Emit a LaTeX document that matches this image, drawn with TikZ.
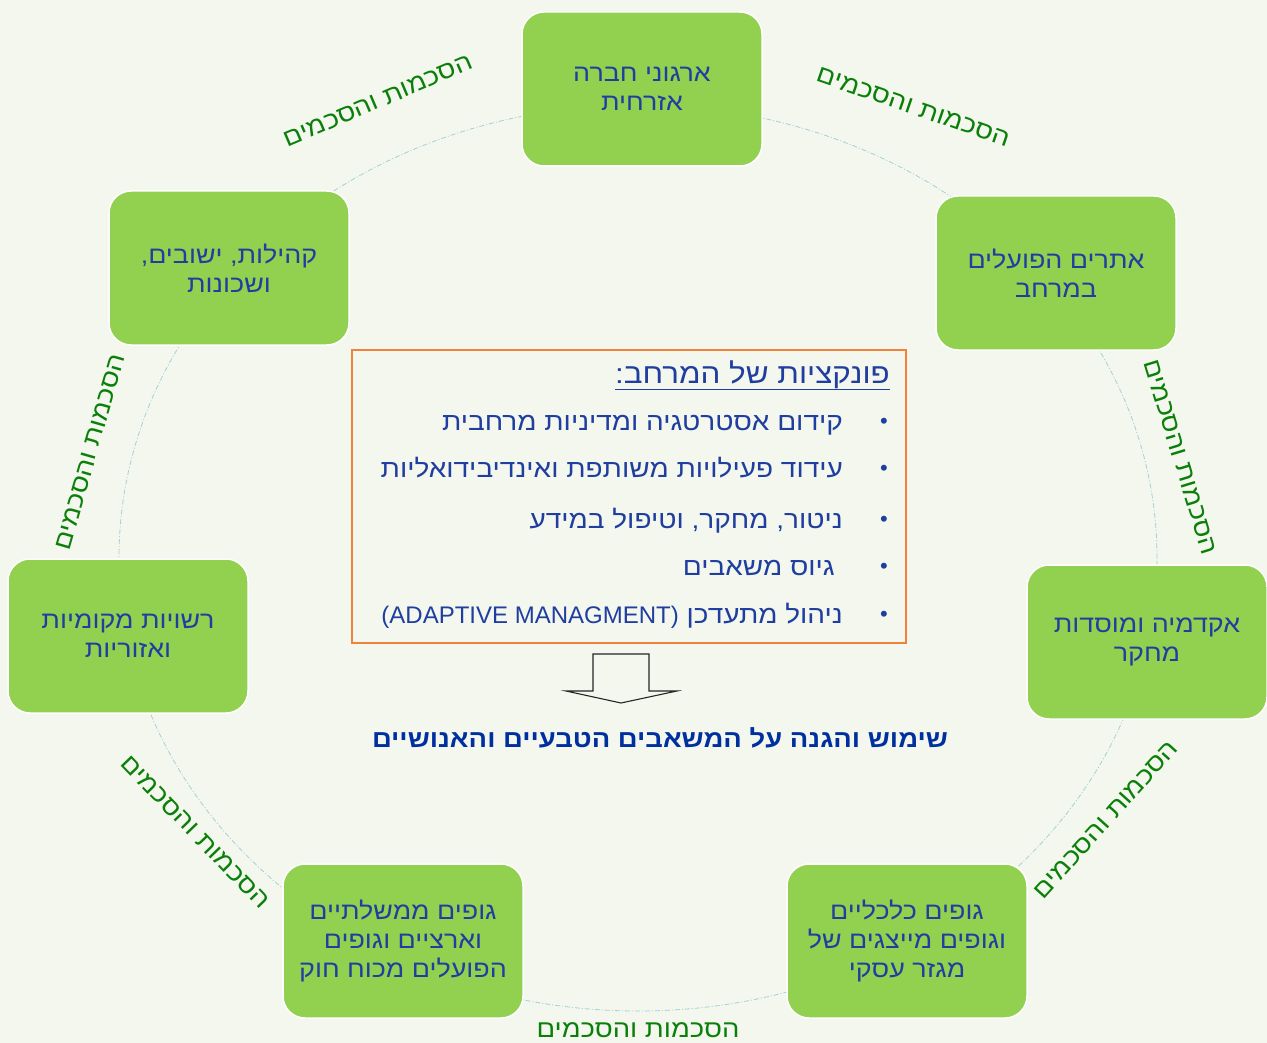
\documentclass[tikz,border=0pt]{standalone}
\usepackage{fontspec}
\setmainfont{Liberation Sans}
\newfontfamily\heb[Script=Hebrew,FakeStretch=1.12]{Liberation Sans}
\newfontfamily\latinfont{Liberation Sans}
\TeXXeTstate=1
\newcommand{\rtltext}[1]{\beginR #1\endR}
\definecolor{bgc}{RGB}{244,247,237}
\definecolor{boxgreen}{RGB}{146,208,80}
\definecolor{boxtext}{RGB}{31,62,160}
\definecolor{labgreen}{RGB}{10,128,10}
\definecolor{circc}{RGB}{165,208,214}
\definecolor{frameor}{RGB}{240,130,60}
\definecolor{boldblue}{RGB}{0,48,160}
\begin{document}
\begin{tikzpicture}[x=1pt,y=-1pt,
  actor/.style={draw=white, line width=1.5pt, fill=boxgreen, rounded corners=22pt,
    minimum width=240pt, minimum height=154pt, align=center, text=boxtext,
    font=\heb\fontsize{24}{29}\selectfont},
  agree/.style={text=labgreen, font=\heb\fontsize{24.5}{30}\selectfont, inner sep=0pt},
  ring/.style={draw=circc, line width=0.8pt, dash pattern=on 5pt off 2pt on 1pt off 2pt},
  bodyline/.style={anchor=base east, text=boxtext, font=\heb\fontsize{25}{29}\selectfont, inner sep=0pt},
  bulletmark/.style={anchor=base, text=boxtext, font=\latinfont\fontsize{22}{26}\selectfont, inner sep=0pt}]
\fill[bgc] (0,0) rectangle (1267,1043);
\useasboundingbox (0,0) rectangle (1267,1043);

% ring
\draw[ring] (638,558) ellipse [x radius=519pt, y radius=453pt];

% actors
\node[actor] (civ) at (642,89) {\rtltext{ארגוני חברה}\\\rtltext{אזרחית}};
\node[actor] (sites) at (1056,273) {\rtltext{אתרים הפועלים}\\\rtltext{במרחב}};
\node[actor] (acad) at (1147,642) {\rtltext{אקדמיה ומוסדות}\\\rtltext{מחקר}};
\node[actor] (econ) at (907,941) {\rtltext{גופים כלכליים}\\\rtltext{וגופים מייצגים של}\\\rtltext{מגזר עסקי}};
\node[actor] (gov) at (403,941) {\rtltext{גופים ממשלתיים}\\\rtltext{וארציים וגופים}\\\rtltext{הפועלים מכוח חוק}};
\node[actor] (local) at (128,636) {\rtltext{רשויות מקומיות}\\\rtltext{ואזוריות}};
\node[actor] (comm) at (229,268) {\rtltext{קהילות, ישובים,}\\\rtltext{ושכונות}};

% agreement labels
\node[agree, rotate=23] (a1) at (378,101) {\rtltext{הסכמות והסכמים}};
\node[agree, rotate=-19] (a2) at (913,107) {\rtltext{הסכמות והסכמים}};
\node[agree, rotate=-73] (a3) at (1180,457) {\rtltext{הסכמות והסכמים}};
\node[agree, rotate=48] (a4) at (1106,820) {\rtltext{הסכמות והסכמים}};
\node[agree] (a5) at (638,1030) {\rtltext{הסכמות והסכמים}};
\node[agree, rotate=-46] (a6) at (195,832) {\rtltext{הסכמות והסכמים}};
\node[agree, rotate=74] (a7) at (90,452) {\rtltext{הסכמות והסכמים}};

% central frame
\draw[frameor, line width=1.2pt] (352,350) rectangle (906,643);
\node[anchor=base east, text=boxtext, font=\heb\fontsize{28}{32}\selectfont, inner sep=0pt] (title) at (890,383)
  {\underline{\hbox{\rtltext{פונקציות של המרחב:}}}};
\node[bodyline] (f1) at (843,430) {\rtltext{קידום אסטרטגיה ומדיניות מרחבית}};
\node[bodyline] (f2) at (843,477) {\rtltext{עידוד פעילויות משותפת ואינדיבידואליות}};
\node[bodyline] (f3) at (843,528) {\rtltext{ניטור, מחקר, וטיפול במידע}};
\node[bodyline] (f4) at (835,575) {\rtltext{גיוס משאבים}};
\node[bodyline] (f5) at (843,623) {\rtltext{ניהול מתעדכן \beginL{\latinfont\fontsize{24}{29}\selectfont(ADAPTIVE MANAGMENT)}\endL}};
\foreach \yy/\nm in {428/b1,475/b2,526/b3,573/b4,621/b5}
  \node[bulletmark] (\nm) at (884,\yy) {•};

% block arrow
\draw[black!85, line width=1.1pt, line join=miter]
  (593,654) -- (649,654) -- (649,691) -- (677,691) -- (621,703) -- (566,691) -- (593,691) -- cycle;

\node[text=boldblue, font=\heb\bfseries\fontsize{24.5}{29}\selectfont, inner sep=0pt] (result) at (660,738)
  {\rtltext{שימוש והגנה על המשאבים הטבעיים והאנושיים}};
\end{tikzpicture}
\end{document}
